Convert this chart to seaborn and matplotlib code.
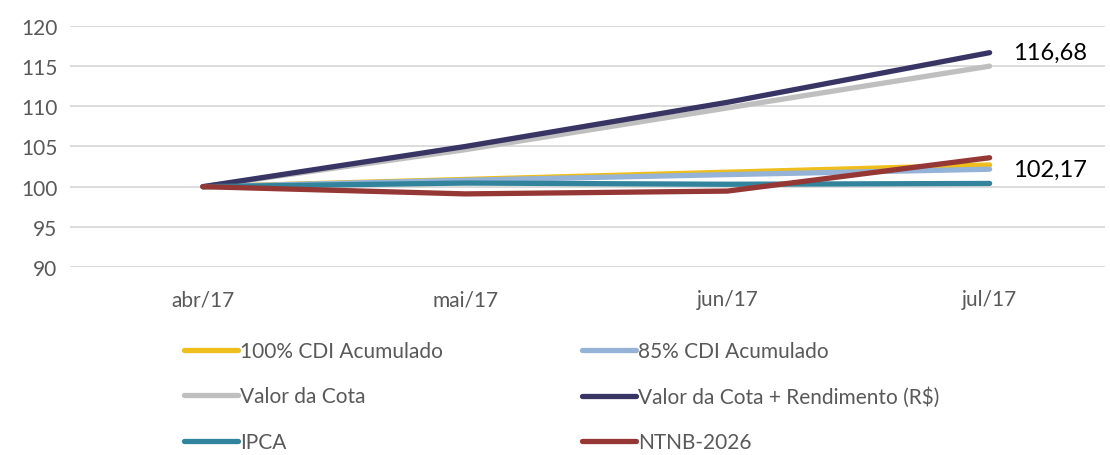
import numpy as np
import pandas as pd
import seaborn as sns
import matplotlib
matplotlib.use("Agg")
import matplotlib.pyplot as plt

sns.set_theme(style="white")
plt.rcParams['font.family'] = ['Lato', 'DejaVu Sans']

months = ["abr/17", "mai/17", "jun/17", "jul/17"]

cdi_100 = [100.0, 100.9, 101.8, 102.7]
cdi_85 = [100.0, 100.8, 101.5, 102.17]
valor_cota = [100.0, 104.6, 109.8, 115.0]
cota_rend = [100.0, 105.0, 110.5, 116.68]
ipca = [100.0, 100.45, 100.3, 100.4]
ntnb = [100.0, 99.1, 99.45, 103.6]

series_names = ["100% CDI Acumulado", "85% CDI Acumulado", "Valor da Cota",
                "Valor da Cota + Rendimento (R$)", "IPCA", "NTNB-2026"]
series_vals = [cdi_100, cdi_85, valor_cota, cota_rend, ipca, ntnb]
colors = ["#EDBE1C", "#95B3D7", "#BFBFBF", "#383565", "#31849B", "#953735"]

rows = []
for name, vals in zip(series_names, series_vals):
    for m, v in zip(months, vals):
        rows.append({"mes": m, "valor": v, "serie": name})
df = pd.DataFrame(rows)

fig = plt.figure(figsize=(11.1, 4.56), dpi=100)
ax = fig.add_axes([70 / 1110, (456 - 268) / 456, (1105 - 70) / 1110, 241 / 456])

sns.lineplot(data=df, x="mes", y="valor", hue="serie", hue_order=series_names,
             palette=colors, linewidth=3.8, sort=False, ax=ax,
             solid_capstyle="round", legend=False)

ax.set_ylim(90, 120)
ax.set_yticks(range(90, 121, 5))
ax.set_xlim(-0.507, 3.44)
ax.set_xlabel("")
ax.set_ylabel("")
ax.yaxis.grid(True, color="#D9D9D9", linewidth=1.3)
ax.set_axisbelow(True)
for s in ax.spines.values():
    s.set_visible(False)
ax.tick_params(axis="both", length=0, labelsize=15, colors="#595959", pad=9)
ax.tick_params(axis="x", pad=16)

ax.annotate("116,68", xy=(3, cota_rend[-1]), xytext=(17, 0), textcoords="offset points",
            va="center", ha="left", fontsize=17, color="black")
ax.annotate("102,17", xy=(3, cdi_85[-1]), xytext=(17, 0), textcoords="offset points",
            va="center", ha="left", fontsize=17, color="black")

# legend is filled row by row in the reference: reorder for matplotlib's column fill
order = [0, 2, 4, 1, 3, 5]
handles = [plt.Line2D([], [], color=colors[i], linewidth=3.8, solid_capstyle="round") for i in order]
labels = [series_names[i] for i in order]
leg = fig.legend(handles, labels, loc="upper left", bbox_to_anchor=(184 / 1110, 1 - 342 / 456),
                 ncol=2, frameon=False, fontsize=15, handlelength=2.6, handletextpad=0.1,
                 labelspacing=1.22, columnspacing=6.65, borderaxespad=0, borderpad=0)
for t in leg.get_texts():
    t.set_color("#595959")

fig.savefig("out.png", dpi=100)
